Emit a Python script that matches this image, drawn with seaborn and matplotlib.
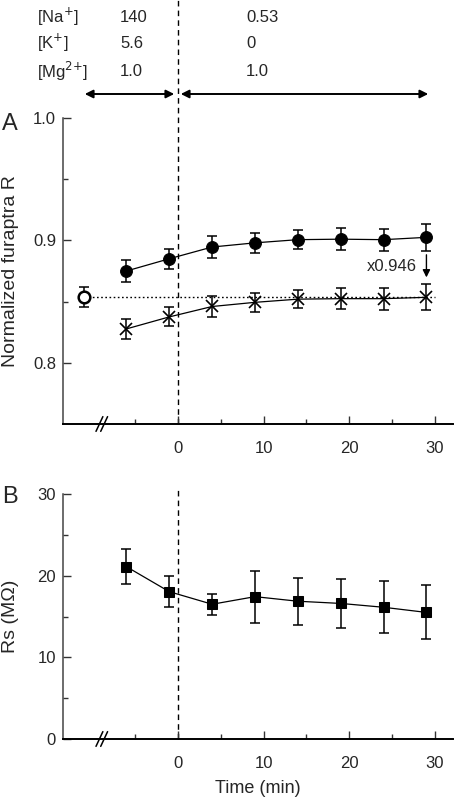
import numpy as np
import pandas as pd
import matplotlib
matplotlib.use("Agg")
import matplotlib.pyplot as plt
import seaborn as sns

sns.set_theme(style="ticks")
plt.rcParams['font.family'] = ['Liberation Sans', 'DejaVu Sans']

# ---- data ----
time_min = [-6, -1, 4, 9, 14, 19, 24, 29]
ratio_filled = [0.875, 0.885, 0.8946, 0.898, 0.9006, 0.901, 0.9006, 0.9025]
ratio_filled_err = [0.009, 0.0083, 0.009, 0.008, 0.0076, 0.009, 0.009, 0.011]
ratio_scaled = [0.8277, 0.8375, 0.846, 0.8494, 0.852, 0.8524, 0.8524, 0.8535]
ratio_scaled_err = [0.0084, 0.0078, 0.0087, 0.0076, 0.0076, 0.0087, 0.009, 0.0105]
control_time = [-11]
control_ratio = [0.8538]
control_err = [0.0082]
rs_mohm = [21.1, 18.04, 16.5, 17.43, 16.87, 16.6, 16.13, 15.5]
rs_err = [2.14, 1.9, 1.29, 3.2, 2.9, 3.0, 3.16, 3.3]

ions = ["[Na$^{+}$]", "[K$^{+}$]", "[Mg$^{2{+}}$]"]
conc_before = ["140", "5.6", "1.0"]
conc_after = ["0.53", "0", "1.0"]
scale_label = "x0.946"

dfA = pd.DataFrame({"t": time_min, "r": ratio_filled, "e": ratio_filled_err})
dfX = pd.DataFrame({"t": time_min, "r": ratio_scaled, "e": ratio_scaled_err})
dfC = pd.DataFrame({"t": control_time, "r": control_ratio, "e": control_err})
dfB = pd.DataFrame({"t": time_min, "rs": rs_mohm, "e": rs_err})

W, H = 455, 801
fig = plt.figure(figsize=(W / 100, H / 100), dpi=100)

def px_axes(left, top, right, bottom):
    return fig.add_axes([left / W, 1 - bottom / H, (right - left) / W, (bottom - top) / H])

axA = px_axes(63, 118, 453, 424)
axB = px_axes(63, 494, 453, 739)

FS = 12
ecol = "black"

# --- Panel A ---
axA.errorbar(dfA.t, dfA.r, yerr=dfA.e, fmt="none", ecolor=ecol, elinewidth=1.1, capsize=3.5, capthick=1.1, zorder=2)
sns.lineplot(data=dfA, x="t", y="r", ax=axA, color="black", lw=0.9, marker="o", markersize=8.5,
             markeredgecolor="black", markerfacecolor="black", zorder=3)
axA.errorbar(dfX.t, dfX.r, yerr=dfX.e, fmt="none", ecolor=ecol, elinewidth=1.1, capsize=3.5, capthick=1.1, zorder=2)
sns.lineplot(data=dfX, x="t", y="r", ax=axA, color="black", lw=0.9, marker="x", markersize=8,
             markeredgewidth=1.2, markeredgecolor="black", zorder=3)
axA.errorbar(dfC.t, dfC.r, yerr=dfC.e, fmt="none", ecolor=ecol, elinewidth=1.1, capsize=3.5, capthick=1.1, zorder=2)
axA.hlines(control_ratio[0], control_time[0], 30, colors="black", linestyles=(0, (1.2, 1.8)), lw=1.0, zorder=1)
sns.scatterplot(data=dfC, x="t", y="r", ax=axA, s=70, marker="o", facecolor="white",
                edgecolor="black", linewidth=1.8, zorder=4)

axA.annotate("", xy=(time_min[-1], 0.8675), xytext=(time_min[-1], 0.8905),
             arrowprops=dict(arrowstyle="-|>", color="black", lw=1.0, mutation_scale=11))
axA.text(25.0, 0.8788, scale_label, fontsize=FS, ha="center", va="center")

axA.set_ylim(0.75, 1.0)
axA.set_yticks([0.8, 0.9, 1.0])
axA.set_yticklabels(["0.8", "0.9", "1.0"])
axA.set_yticks([0.85, 0.95], minor=True)
axA.set_ylabel("Normalized furaptra R", fontsize=14, va="center")
axA.yaxis.set_label_coords(-0.135, 0.5)

# --- Panel B ---
axB.errorbar(dfB.t, dfB.rs, yerr=dfB.e, fmt="none", ecolor=ecol, elinewidth=1.1, capsize=3.5, capthick=1.1, zorder=2)
sns.lineplot(data=dfB, x="t", y="rs", ax=axB, color="black", lw=0.9, marker="s", markersize=7.5,
             markeredgecolor="black", markerfacecolor="black", zorder=3)
axB.set_ylim(0, 30)
axB.set_yticks([0, 10, 20, 30])
axB.set_yticks([5, 15, 25], minor=True)
axB.set_ylabel("Rs (MΩ)", fontsize=14, va="center")
axB.yaxis.set_label_coords(-0.135, 0.5)
axB.set_xlabel("Time (min)", fontsize=13, labelpad=7)

for ax, ymax in ((axA, 424 / 306), (axB, 250 / 245)):
    ax.set_xlim(-13.4, 32.1)
    ax.set_xticks([0, 10, 20, 30])
    ax.set_xticks([-5, 5, 15, 25], minor=True)
    ax.spines[["top", "right"]].set_visible(False)
    ax.spines["left"].set_color("#444444")
    ax.spines["left"].set_linewidth(1.1)
    ax.spines["bottom"].set_linewidth(1.4)
    ax.spines["bottom"].set_color("black")
    ax.tick_params(axis="both", which="major", direction="in", length=6, width=1.0, labelsize=FS, color="#333333")
    ax.tick_params(axis="both", which="minor", direction="in", length=3.5, width=1.0, color="#333333")
    ax.tick_params(axis="x", which="major", pad=12)
    ax.tick_params(axis="y", which="major", pad=5)
    ax.axvline(0, ymin=0, ymax=ymax, color="black", ls=(0, (4, 3)), lw=1.0, clip_on=False, zorder=0)
    if ax is axA:
        ax.set_xlabel("")
    # axis break marks
    tr = ax.get_xaxis_transform()
    for dx in (-0.55, 0.0):
        ax.plot([-9.0 + dx, -8.2 + dx], [-0.03 * 245 / ax.bbox.height, 0.03 * 245 / ax.bbox.height],
                transform=tr, color="black", lw=1.1, clip_on=False)

fig.text(10 / W, 1 - 124 / H, "A", fontsize=17, ha="center", va="center")
fig.text(10 / W, 1 - 497 / H, "B", fontsize=17, ha="center", va="center")

# header
rows_y = [17, 43, 71]
for lab, b, a, y in zip(ions, conc_before, conc_after, rows_y):
    fig.text(37 / W, 1 - y / H, lab, fontsize=FS, ha="left", va="center")
    fig.text(120 / W, 1 - y / H, b, fontsize=FS, ha="left", va="center")
    fig.text(246 / W, 1 - y / H, a, fontsize=FS, ha="left", va="center")

arrow_y = 1 - 94 / H
for x0, x1 in ((82 / W, 177 / W), (178 / W, 431 / W)):
    fig.patches.append(matplotlib.patches.FancyArrowPatch(
        (x0, arrow_y), (x1, arrow_y), transform=fig.transFigure, arrowstyle="<|-|>",
        mutation_scale=12, color="black", lw=1.4))

fig.savefig("out.png", dpi=100)
